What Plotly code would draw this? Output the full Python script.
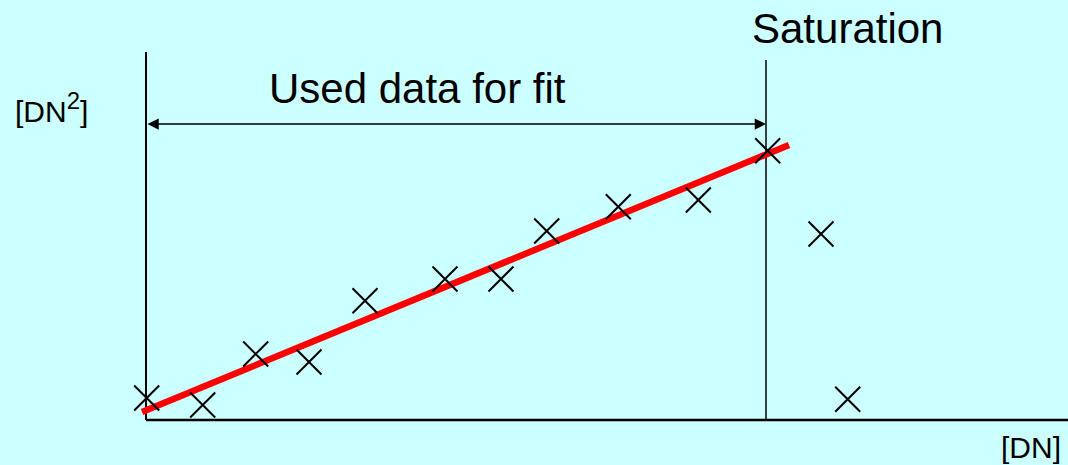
import plotly.graph_objects as go

# Measured signal (mean, DN) and variance (DN^2) pairs
signal_dn = [0.7, 56.7, 109.7, 163, 219, 299, 355, 400.7, 472.3, 552.3, 621.7, 675, 701.7]
variance_dn2 = [22, 15, 66, 58, 119.3, 141, 141, 189, 213.3, 220, 269.3, 186, 20.7]

# Linear fit through the unsaturated points (end points of the drawn line)
fit_x = [-4, 643]
fit_y = [8, 275]

# Saturation level and extents of the frame
saturation_x = 620
saturation_top = 360
axis_top = 368
axis_right = 922
span_arrow_y = 296

BG = "#CCFFFF"
FONT = "Liberation Sans, Arial, sans-serif"

fig = go.Figure()

# Axes drawn as plain black lines
fig.add_trace(go.Scatter(x=[0, 0], y=[axis_top, 0], mode="lines",
                         line=dict(color="black", width=2), hoverinfo="skip"))
fig.add_trace(go.Scatter(x=[0, axis_right], y=[0, 0], mode="lines",
                         line=dict(color="black", width=2.5), hoverinfo="skip"))

# Saturation boundary
fig.add_trace(go.Scatter(x=[saturation_x, saturation_x], y=[saturation_top, 0], mode="lines",
                         line=dict(color="black", width=1.5), hoverinfo="skip"))

# Fit line
fig.add_trace(go.Scatter(x=fit_x, y=fit_y, mode="lines",
                         line=dict(color="#FF0000", width=6.5), hoverinfo="skip"))

# Measured points
fig.add_trace(go.Scatter(x=signal_dn, y=variance_dn2, mode="markers",
                         marker=dict(symbol="x-thin", size=25,
                                     line=dict(color="black", width=2)),
                         hoverinfo="skip"))

# Double-headed arrow marking the fit range
fig.add_annotation(x=saturation_x, y=span_arrow_y, ax=0, ay=span_arrow_y,
                   xref="x", yref="y", axref="x", ayref="y", text="",
                   showarrow=True, arrowside="end+start", arrowhead=2,
                   arrowsize=1.5, arrowwidth=1.5, arrowcolor="black",
                   standoff=0, startstandoff=0)

fig.add_annotation(x=271.5, y=332, xref="x", yref="y", text="Used data for fit",
                   showarrow=False, font=dict(family=FONT, size=42, color="black"))
fig.add_annotation(x=701, y=392, xref="x", yref="y", text="Saturation",
                   showarrow=False, font=dict(family=FONT, size=42, color="black"))
fig.add_annotation(x=-95, y=313, xref="x", yref="y",
                   text="[DN<sup><span style='font-size:24px'>2</span></sup>]",
                   showarrow=False, font=dict(family=FONT, size=30, color="black"))
fig.add_annotation(x=885, y=-27, xref="x", yref="y", text="[DN]",
                   showarrow=False, font=dict(family=FONT, size=30, color="black"))

fig.update_layout(
    width=1068, height=465,
    margin=dict(l=0, r=0, t=0, b=0),
    paper_bgcolor=BG, plot_bgcolor=BG,
    showlegend=False,
    xaxis=dict(range=[-146, 922], visible=False, fixedrange=True),
    yaxis=dict(range=[-45, 420], visible=False, fixedrange=True),
)

fig.write_html("out.html", config={"displayModeBar": False})
